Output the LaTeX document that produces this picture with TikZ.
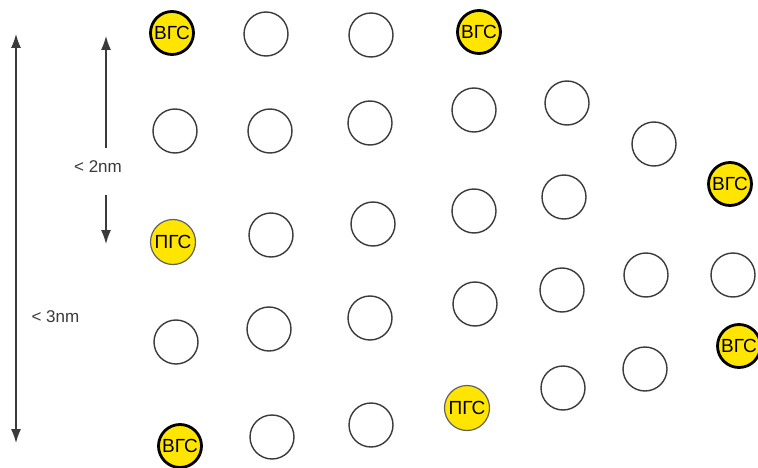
\documentclass[tikz,border=0pt]{standalone}
\usepackage{fontspec}
\setmainfont{Liberation Sans}
\usepackage{tikz}
\usetikzlibrary{arrows.meta,positioning}
\definecolor{gsyellow}{HTML}{FFE500}
\definecolor{gsline}{HTML}{3A3A3A}

\begin{document}
\begin{tikzpicture}[
  x=1pt, y=-1pt,
  pore/.style={circle, draw=gsline, line width=1.4pt, fill=white,
               minimum size=44pt, inner sep=0pt},
  vgs/.style={circle, draw=black, line width=2.8pt, fill=gsyellow,
              minimum size=43pt, inner sep=0pt, font=\fontsize{19}{19}\selectfont},
  pgs/.style={circle, draw=gsline!80, line width=1.2pt, fill=gsyellow,
              minimum size=45pt, inner sep=0pt, font=\fontsize{19}{19}\selectfont},
  arr/.style={-{Latex[length=14pt,width=10pt]}, line width=1.2pt, gsline},
  dimlab/.style={font=\fontsize{17}{17}\selectfont, text=gsline}
]
\useasboundingbox (0,0) rectangle (758,468);

% Row 1
\node[vgs]  (v1) at (172,33) {ВГС};
\node[pore] (p11) at (266,34) {};
\node[pore] (p12) at (371,35) {};
\node[vgs]  (v2) at (479,32) {ВГС};

% Row 2
\node[pore] (p21) at (175,131) {};
\node[pore] (p22) at (270,131) {};
\node[pore] (p23) at (370,123) {};
\node[pore] (p24) at (474,110) {};
\node[pore] (p25) at (567,103) {};
\node[pore] (p26) at (654,144) {};
\node[vgs]  (v3) at (730,184) {ВГС};

% Row 3
\node[pgs]  (g1) at (173,242) {ПГС};
\node[pore] (p31) at (271,235) {};
\node[pore] (p32) at (373,224) {};
\node[pore] (p33) at (474,211) {};
\node[pore] (p34) at (564,197) {};

% Row 4
\node[pore] (p41) at (176,342) {};
\node[pore] (p42) at (269,329) {};
\node[pore] (p43) at (370,318) {};
\node[pore] (p44) at (475,304) {};
\node[pore] (p45) at (562,290) {};
\node[pore] (p46) at (646,275) {};
\node[pore] (p47) at (733,275) {};

% Row 5
\node[vgs]  (v4) at (180,446) {ВГС};
\node[pore] (p51) at (272,437) {};
\node[pore] (p52) at (371,425) {};
\node[pgs]  (g2) at (467,408) {ПГС};
\node[pore] (p53) at (563,388) {};
\node[pore] (p54) at (645,369) {};
\node[vgs]  (v5) at (739,346) {ВГС};

% Dimension arrows
\node[dimlab] (lab2) at (98,167) {< 2nm};
\coordinate (d2top) at (106,36);
\coordinate (d2a) at (106,148);
\coordinate (d2b) at (106,195);
\coordinate (d2bot) at (106,244);
\draw[arr] (d2a) -- (d2top);
\draw[arr] (d2b) -- (d2bot);

\coordinate (d3top) at (16,34);
\coordinate (d3bot) at (16,443);
\draw[arr, {Latex[length=14pt,width=10pt]}-{Latex[length=14pt,width=10pt]}] (d3top) -- (d3bot);
\node[dimlab, anchor=west] (lab3) at (28,317) {< 3nm};
\end{tikzpicture}
\end{document}
